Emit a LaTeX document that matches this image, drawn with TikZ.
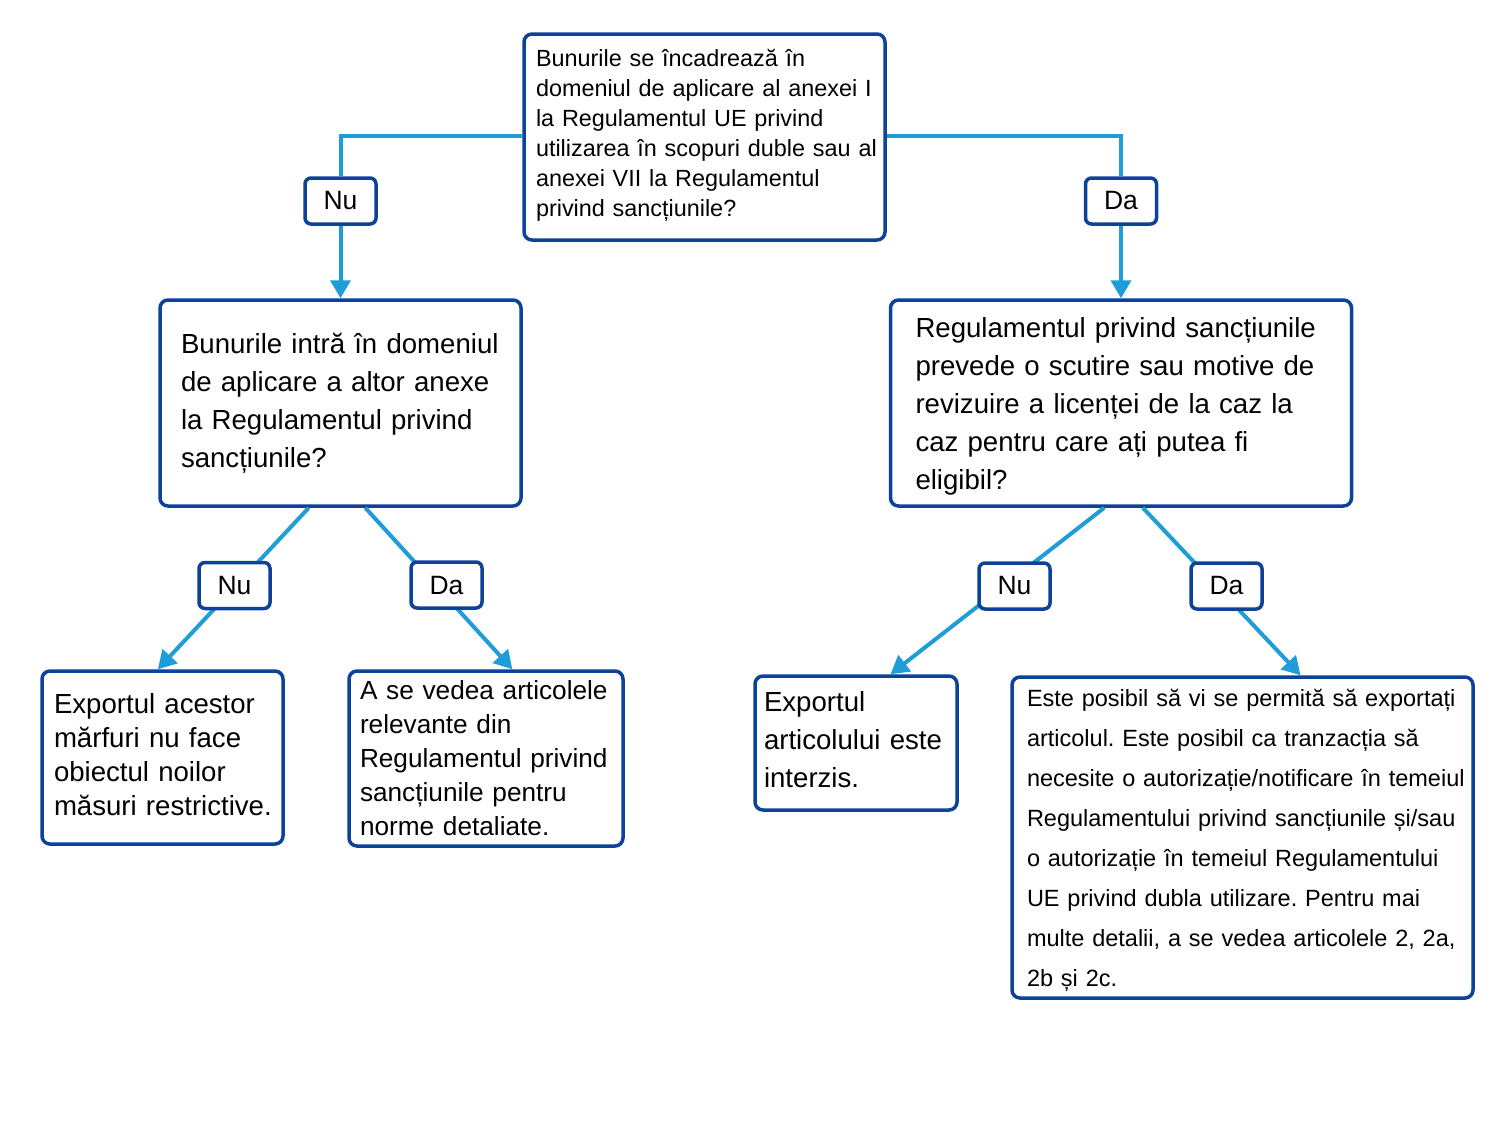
\documentclass[tikz,border=0pt]{standalone}
\usepackage{fontspec}
\setmainfont{Liberation Sans}
\usetikzlibrary{arrows.meta,calc}
\definecolor{boxblue}{RGB}{12,66,152}
\definecolor{linkblue}{RGB}{30,157,216}
\frenchspacing
\newcommand\oneline[1]{\mbox{#1}}
% first line with extra height (moves the text block down by half of #1)
\newcommand\firstup[2]{\mbox{\raisebox{#1}{\vphantom{#2}}#2}}
% last line with extra depth (moves the text block up by half of #1)
\newcommand\lastdown[2]{\mbox{#2\raisebox{-#1}{\vphantom{#2}}}}
\tikzset{
 qbox/.style={draw=boxblue, line width=3.5pt, rounded corners=8pt, fill=white, align=left, inner ysep=0pt},
 lbl/.style={draw=boxblue, line width=3.5pt, rounded corners=6pt, fill=white, minimum width=71pt, minimum height=46pt, inner sep=0pt, font=\fontsize{26.5}{30}\selectfont},
 conn/.style={draw=linkblue, line width=4pt},
 arr/.style={conn, -{Triangle[width=20pt,length=18pt]}},
}
\begin{document}
\begin{tikzpicture}[x=1pt,y=-1pt]
\useasboundingbox[fill=white] (0,0) rectangle (1511,1120);

\node[qbox, font=\fontsize{23.4}{30}\selectfont, text width=337pt, inner xsep=12pt, minimum height=206pt] (top) at (704.5,137)
 {\oneline{Bunurile se încadrează în}\\\oneline{domeniul de aplicare al anexei I}\\\oneline{la Regulamentul UE privind}\\\oneline{utilizarea în scopuri duble sau al}\\\oneline{anexei VII la Regulamentul}\\\lastdown{4pt}{privind sancțiunile?}};

\node[qbox, font=\fontsize{27.6}{38}\selectfont, text width=319pt, inner xsep=21pt, minimum height=206pt] (q2l) at (340.5,403)
 {\oneline{Bunurile intră în domeniul}\\\oneline{de aplicare a altor anexe}\\\oneline{la Regulamentul privind}\\\oneline{sancțiunile?}};

\node[qbox, font=\fontsize{27.6}{38}\selectfont, text width=411pt, inner xsep=25pt, minimum height=206pt] (q2r) at (1121,403)
 {\firstup{6pt}{Regulamentul privind sancțiunile}\\\oneline{prevede o scutire sau motive de}\\\oneline{revizuire a licenței de la caz la}\\\oneline{caz pentru care ați putea fi}\\\oneline{eligibil?}};

\node[qbox, font=\fontsize{27.6}{34}\selectfont, text width=217pt, inner xsep=12pt, minimum height=173pt] (bA) at (162.5,757.5)
 {\oneline{Exportul acestor}\\\oneline{mărfuri nu face}\\\oneline{obiectul noilor}\\\lastdown{6pt}{măsuri restrictive.}};

\node[qbox, font=\fontsize{26.2}{34}\selectfont, text width=252pt, inner xsep=11pt, minimum height=175pt] (bB) at (486,758.5)
 {\oneline{A se vedea articolele}\\\oneline{relevante din}\\\oneline{Regulamentul privind}\\\oneline{sancțiunile pentru}\\\oneline{norme detaliate.}};

\node[qbox, font=\fontsize{27.6}{38}\selectfont, text width=184pt, inner xsep=9pt, minimum height=134pt] (bC) at (856,743)
 {\oneline{Exportul}\\\oneline{articolului este}\\\lastdown{6pt}{interzis.}};

\node[qbox, font=\fontsize{23.5}{40}\selectfont, text width=431pt, inner xsep=15pt, minimum height=321pt] (bD) at (1242.5,837.5)
 {\firstup{6pt}{Este posibil să vi se permită să exportați}\\\oneline{articolul. Este posibil ca tranzacția să}\\\oneline{necesite o autorizație/notificare în temeiul}\\\oneline{Regulamentului privind sancțiunile și/sau}\\\oneline{o autorizație în temeiul Regulamentului}\\\oneline{UE privind dubla utilizare. Pentru mai}\\\oneline{multe detalii, a se vedea articolele 2, 2a,}\\\oneline{2b și 2c.}};

\node[lbl] (nu1) at (340.5,201) {Nu};
\node[lbl] (da1) at (1121,201) {Da};

\draw[conn] (top.west|-0,136) -| (nu1.north);
\draw[arr] (nu1.south) -- (q2l.north);
\draw[conn] (top.east|-0,136) -| (da1.north);
\draw[arr] (da1.south) -- (q2r.north);

\draw[arr] ($(q2l.south west)!0.413!(q2l.south east)$) -- ($(bA.north west)!0.481!(bA.north east)$);
\draw[arr] ($(q2l.south west)!0.568!(q2l.south east)$) -- ($(bB.north west)!0.595!(bB.north east)$);
\draw[arr] ($(q2r.south west)!0.464!(q2r.south east)$) -- ($(bC.north west)!0.668!(bC.north east)$);
\draw[arr] ($(q2r.south west)!0.547!(q2r.south east)$) -- ($(bD.north west)!0.625!(bD.north east)$);

\node[lbl] (nu2) at (234.5,585.5) {Nu};
\node[lbl] (da2) at (446.5,585) {Da};
\node[lbl] (nu3) at (1014.5,586) {Nu};
\node[lbl] (da3) at (1226.5,586) {Da};
\end{tikzpicture}
\end{document}
